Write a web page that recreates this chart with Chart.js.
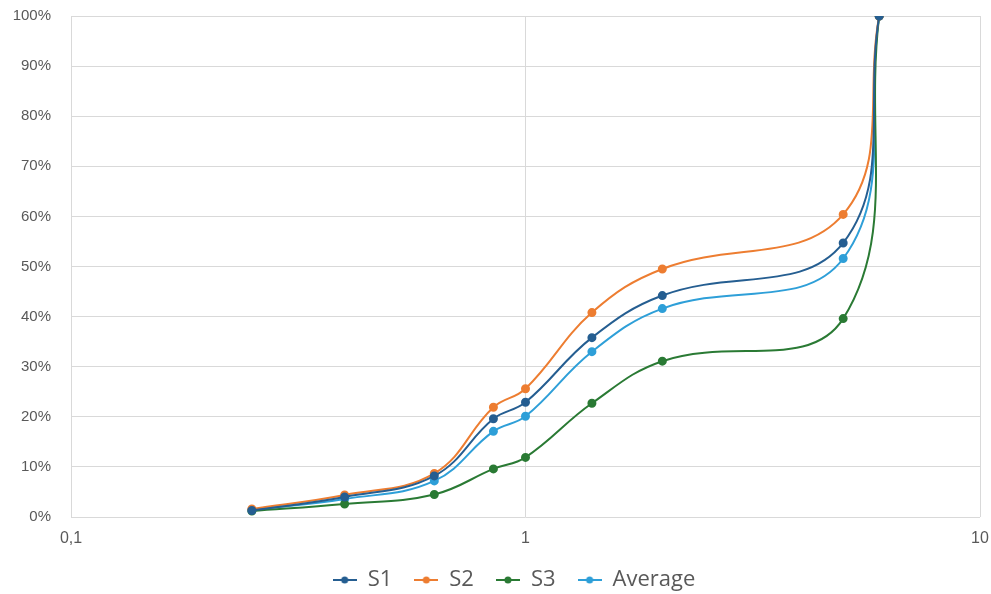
<!DOCTYPE html>
<html>
<head>
<meta charset="utf-8">
<script src="https://cdn.jsdelivr.net/npm/chart.js@4/dist/chart.umd.min.js"></script>
<style>
  html, body { margin: 0; padding: 0; background: #ffffff; }
  #wrap { width: 991px; height: 594px; position: relative; }
</style>
</head>
<body>
<div id="wrap"><canvas id="curveChart"></canvas></div>
<script>
// Sizes (log x axis) and passing percentages
const sizes = [0.25, 0.4, 0.63, 0.85, 1, 1.4, 2, 5, 6];
const s1 = [1.3, 4.0, 8.2, 19.6, 22.9, 35.8, 44.2, 54.7, 100];
const s2 = [1.6, 4.4, 8.7, 21.9, 25.6, 40.8, 49.5, 60.4, 100];
const s3 = [1.2, 2.6, 4.5, 9.6, 11.9, 22.7, 31.1, 39.6, 100];
const average = [1.4, 3.6, 7.2, 17.1, 20.1, 33.0, 41.6, 51.6, 100];
const xTicks = [0.1, 1, 10];
const seriesNames = ['S1', 'S2', 'S3', 'Average'];
const seriesColors = ['#255e91', '#ed7d31', '#2a7a34', '#2e9fd8'];

const tickFont = "'Liberation Sans Narrow', 'Liberation Sans', Arial, sans-serif";
const legendPad = 22;

function toPoints(values) {
    return values.map((v, i) => ({ x: sizes[i], y: v }));
}

// Excel style legend marker: short line with a dot in the middle
function legendMarker(color) {
    const c = document.createElement('canvas');
    c.width = 24;
    c.height = 10;
    const g = c.getContext('2d');
    g.strokeStyle = color;
    g.lineWidth = 2;
    g.beginPath();
    g.moveTo(0, 5);
    g.lineTo(24, 5);
    g.stroke();
    g.fillStyle = color;
    g.beginPath();
    g.arc(12, 5, 3.5, 0, Math.PI * 2);
    g.fill();
    return c;
}

// nudge the legend so its row sits where the reference has it
const legendShift = {
    id: 'legendShift',
    afterLayout: function(chart) {
        const lg = chart.legend;
        const dy = 578 - (lg.top + legendPad + 9);
        lg.top += dy;
        lg.bottom += dy;
        lg.left += 24;
        lg.right += 24;
    }
};

const allSeries = [s1, s2, s3, average];
const datasets = allSeries.map((vals, i) => ({
    label: seriesNames[i],
    data: toPoints(vals),
    borderColor: seriesColors[i],
    backgroundColor: seriesColors[i],
    borderWidth: 2,
    pointRadius: 3.5,
    pointHoverRadius: 4,
    tension: 0.4,
    fill: false
}));

const ctx = document.getElementById('curveChart').getContext('2d');
new Chart(ctx, {
    type: 'line',
    data: { datasets: datasets },
    plugins: [legendShift],
    options: {
        responsive: true,
        maintainAspectRatio: false,
        animation: false,
        layout: {
            padding: { left: 0, right: 11, top: 16, bottom: -17 }
        },
        scales: {
            x: {
                type: 'logarithmic',
                min: 0.1,
                max: 10,
                afterBuildTicks: function(scale) {
                    scale.ticks = xTicks.map(v => ({ value: v }));
                },
                afterFit: function(scale) {
                    scale.height = 40;
                    scale.paddingLeft = 0;
                    scale.paddingRight = 0;
                },
                ticks: {
                    color: '#595959',
                    font: { family: tickFont, size: 16 },
                    padding: 12,
                    maxRotation: 0,
                    callback: function(value) {
                        return String(value).replace('.', ',');
                    }
                },
                grid: {
                    color: '#d9d9d9',
                    lineWidth: 1,
                    drawTicks: false
                },
                border: { display: false }
            },
            y: {
                min: 0,
                max: 100,
                afterFit: function(scale) {
                    scale.width = 71;
                    scale.paddingTop = 0;
                    scale.paddingBottom = 0;
                },
                ticks: {
                    stepSize: 10,
                    color: '#595959',
                    font: { family: tickFont, size: 15 },
                    padding: 20,
                    callback: function(value) {
                        return value + '%';
                    }
                },
                grid: {
                    color: '#d9d9d9',
                    lineWidth: 1,
                    drawTicks: false
                },
                border: { display: false }
            }
        },
        plugins: {
            legend: {
                position: 'bottom',
                labels: {
                    usePointStyle: true,
                    pointStyleWidth: 24,
                    boxHeight: 10,
                    padding: legendPad,
                    color: '#595959',
                    font: { family: "'Liberation Sans Narrow', 'Open Sans', sans-serif", size: 22 },
                    generateLabels: function(chart) {
                        return chart.data.datasets.map((ds, i) => ({
                            text: ds.label,
                            fillStyle: ds.borderColor,
                            strokeStyle: ds.borderColor,
                            fontColor: '#595959',
                            lineWidth: 0,
                            pointStyle: legendMarker(ds.borderColor),
                            hidden: false,
                            datasetIndex: i
                        }));
                    }
                }
            },
            tooltip: { enabled: false }
        }
    }
});
</script>
</body>
</html>
